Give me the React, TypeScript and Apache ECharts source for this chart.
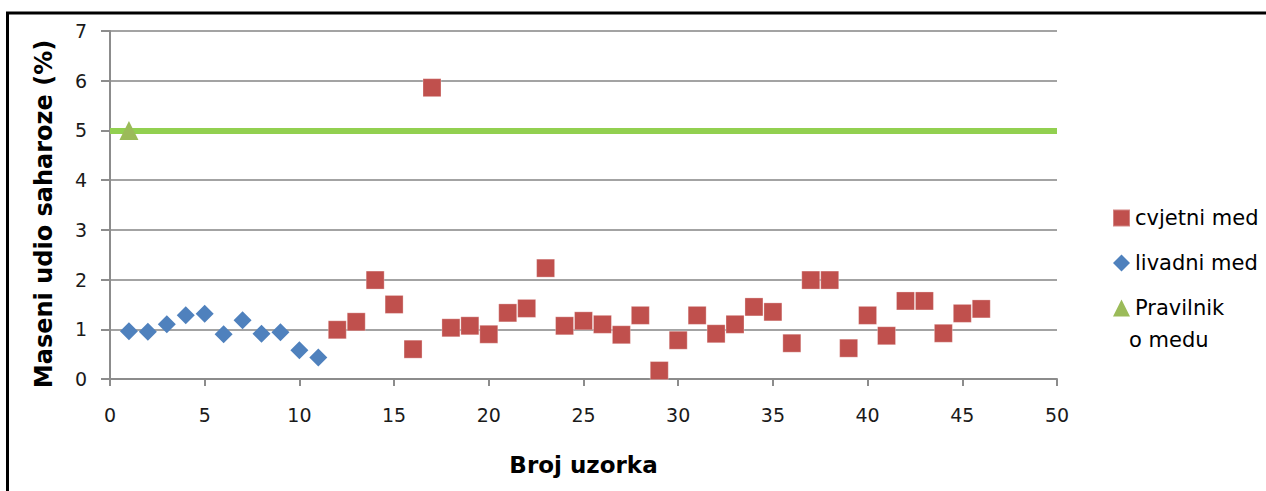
import React, { useEffect, useRef } from "react";
import * as echarts from "echarts";

const livadniX = [1, 2, 3, 4, 5, 6, 7, 8, 9, 10, 11];
const livadniY = [0.96, 0.95, 1.1, 1.28, 1.31, 0.9, 1.18, 0.91, 0.94, 0.58, 0.43];

const cvjetniX = [12, 13, 14, 15, 16, 17, 18, 19, 20, 21, 22, 23, 24, 25, 26, 27, 28, 29, 30, 31, 32, 33, 34, 35, 36, 37, 38, 39, 40, 41, 42, 43, 44, 45, 46];
const cvjetniY = [0.99, 1.15, 1.99, 1.5, 0.6, 5.86, 1.03, 1.07, 0.9, 1.33, 1.42, 2.23, 1.07, 1.17, 1.1, 0.89, 1.28, 0.17, 0.78, 1.28, 0.91, 1.1, 1.45, 1.35, 0.72, 1.99, 1.99, 0.62, 1.28, 0.87, 1.57, 1.57, 0.92, 1.32, 1.41];

const pravilnikX = [1];
const pravilnikY = [5];
const pravilnikLimit = 5;

const seriesNames = ["cvjetni med", "livadni med", "Pravilnik o medu"];
const xTitle = "Broj uzorka";
const yTitle = "Maseni udio saharoze (%)";

const FONT = "'DejaVu Sans', Verdana, sans-serif";

export default function App() {
  const ref = useRef<HTMLDivElement>(null);
  useEffect(() => {
    document.body.style.margin = "0";
    const chart = echarts.init(ref.current!, null, { renderer: "svg" });
    const zip = (xs: number[], ys: number[]) => xs.map((x, i) => [x, ys[i]]);
    chart.setOption({
      animation: false,
      backgroundColor: "#ffffff",
      textStyle: { fontFamily: FONT },
      grid: { left: 110, right: 209, top: 31, bottom: 112 },
      xAxis: {
        type: "value",
        min: 0,
        max: 50,
        interval: 5,
        name: xTitle,
        nameLocation: "middle",
        nameGap: 74,
        nameTextStyle: { fontFamily: FONT, fontSize: 23, fontWeight: "bold", color: "#000" },
        axisLine: { show: true, lineStyle: { color: "#8c8c8c", width: 2 } },
        axisTick: { show: true, length: 7, lineStyle: { color: "#8c8c8c", width: 2 } },
        axisLabel: { margin: 26, fontSize: 19, color: "#1a1a1a", fontFamily: FONT },
        splitLine: { show: false },
      },
      yAxis: {
        type: "value",
        min: 0,
        max: 7,
        interval: 1,
        name: yTitle,
        nameLocation: "middle",
        nameGap: 54,
        nameTextStyle: { fontFamily: FONT, fontSize: 24, fontWeight: "bold", color: "#000", padding: [0, 18, 0, 0] },
        axisLine: { show: true, lineStyle: { color: "#8c8c8c", width: 2 } },
        axisTick: { show: true, length: 9, lineStyle: { color: "#8c8c8c", width: 2 } },
        axisLabel: { margin: 23, fontSize: 19, color: "#1a1a1a", fontFamily: FONT },
        splitLine: { show: true, lineStyle: { color: "#a3a3a3", width: 2 } },
      },
      legend: {
        orient: "vertical",
        left: 1107,
        top: 201,
        itemWidth: 17,
        itemHeight: 17,
        itemGap: 21,
        data: seriesNames,
        formatter: (n: string) => (n === "Pravilnik o medu" ? "Pravilnik" : n),
        textStyle: { fontFamily: FONT, fontSize: 21, color: "#000", lineHeight: 24 },
      },
      graphic: [
        {
          type: "rect",
          shape: { x: 7.5, y: 13, width: 1400, height: 700 },
          style: { fill: "none", stroke: "#000", lineWidth: 3 },
          silent: true,
        },
        {
          type: "text",
          x: 1129,
          y: 340,
          style: { text: "o medu", fontFamily: FONT, fontSize: 21, fill: "#000", verticalAlign: "middle" },
        },
      ],
      series: [
        {
          name: seriesNames[0],
          type: "scatter",
          symbol: "rect",
          symbolSize: 18,
          itemStyle: { color: "#C0504D", opacity: 1, borderColor: "rgba(255,255,255,0.3)", borderWidth: 1 },
          data: zip(cvjetniX, cvjetniY),
          z: 3,
        },
        {
          name: seriesNames[1],
          type: "scatter",
          symbol: "diamond",
          symbolSize: 18,
          itemStyle: { color: "#4F81BD", opacity: 1 },
          data: zip(livadniX, livadniY),
          z: 3,
        },
        {
          name: seriesNames[2],
          type: "scatter",
          symbol: "triangle",
          symbolSize: 19,
          itemStyle: { color: "#9BBB59", opacity: 1 },
          data: zip(pravilnikX, pravilnikY),
          z: 4,
          markLine: {
            silent: true,
            symbol: "none",
            label: { show: false },
            lineStyle: { color: "#92D050", width: 6, type: "solid", opacity: 1 },
            data: [{ yAxis: pravilnikLimit }],
            z: 2,
          },
        },
      ],
    });
    return () => chart.dispose();
  }, []);
  return <div ref={ref} style={{ width: 1266, height: 491 }} />;
}
